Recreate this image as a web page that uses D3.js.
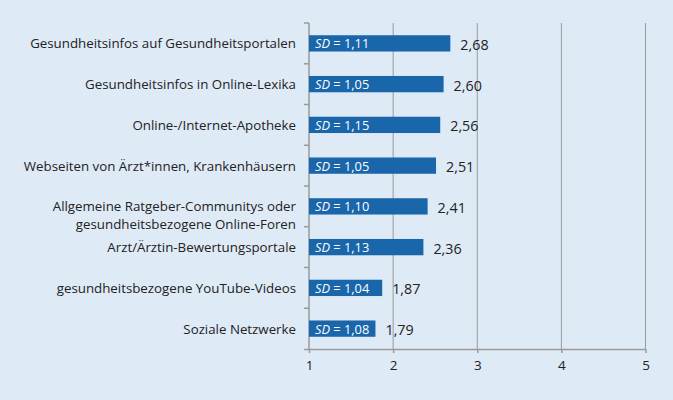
<!DOCTYPE html>
<html><head><meta charset="utf-8">
<script src="https://cdn.jsdelivr.net/npm/d3@7"></script>
<style>
html,body{margin:0;padding:0;background:#dfeaf7;}
svg{display:block;font-family:"Open Sans",sans-serif;}
</style></head>
<body>
<svg id="c" width="673" height="400"></svg>
<script>
const categories = [
  ["Gesundheitsinfos auf Gesundheitsportalen"],
  ["Gesundheitsinfos in Online-Lexika"],
  ["Online-/Internet-Apotheke"],
  ["Webseiten von Ärzt*innen, Krankenhäusern"],
  ["Allgemeine Ratgeber-Communitys oder", "gesundheitsbezogene Online-Foren"],
  ["Arzt/Ärztin-Bewertungsportale"],
  ["gesundheitsbezogene YouTube-Videos"],
  ["Soziale Netzwerke"]
];
const means = [2.68, 2.60, 2.56, 2.51, 2.41, 2.36, 1.87, 1.79];
const sds = [1.11, 1.05, 1.15, 1.05, 1.10, 1.13, 1.04, 1.08];
const xTicks = [1, 2, 3, 4, 5];

const fmt = v => v.toFixed(2).replace(".", ",");
const svg = d3.select("#c");
svg.append("rect").attr("width",673).attr("height",400).attr("fill","#dfeaf7");

const x = d3.scaleLinear().domain([1,5]).range([309,645.5]);
const y = d3.scaleBand().domain(d3.range(categories.length)).range([23,349]).paddingInner(0.6).paddingOuter(0.3);
const yb = d3.scaleBand().domain(d3.range(categories.length)).range([23,349]);
const axisCol = "#9a9a9a";

// gridlines
svg.append("g").selectAll("line").data(xTicks.slice(1)).join("line")
  .attr("x1",d=>x(d)).attr("x2",d=>x(d)).attr("y1",23).attr("y2",349)
  .attr("stroke",axisCol).attr("stroke-width",1);

// x axis
const xa = svg.append("g").attr("transform","translate(0,349)")
  .call(d3.axisBottom(x).tickValues(xTicks).tickSize(4).tickSizeOuter(0).tickFormat(d=>d));
xa.select(".domain").attr("stroke",axisCol).attr("stroke-width",1.5).attr("d","M304,0.5H"+x(5));
xa.selectAll(".tick line").attr("stroke",axisCol).attr("stroke-width",1.5);
xa.selectAll(".tick text").attr("font-family","Open Sans").attr("font-size",13.5).attr("fill","#222").attr("dy","1.05em");

// y axis
svg.append("line").attr("x1",x(1)).attr("x2",x(1)).attr("y1",23).attr("y2",349).attr("stroke",axisCol).attr("stroke-width",1.5);
svg.append("g").selectAll("line").data(d3.range(categories.length)).join("line")
  .attr("x1",304).attr("x2",x(1)).attr("y1",d=>yb(d)).attr("y2",d=>yb(d))
  .attr("stroke",axisCol).attr("stroke-width",1.5);

// category labels
const lab = svg.append("g").selectAll("text").data(categories).join("text")
  .attr("x",296).attr("y",(d,i)=>yb(i)+yb.bandwidth()/2)
  .attr("text-anchor","end").attr("font-size",13.3).attr("fill","#222").attr("dominant-baseline","central");
lab.selectAll("tspan").data(d=>d).join("tspan").attr("x",296).attr("dy",(d,j)=>j===0?0:"1.35em").text(d=>d);

// bars
svg.append("g").selectAll("rect").data(means).join("rect")
  .attr("x",x(1)).attr("y",(d,i)=>y(i)).attr("height",y.bandwidth())
  .attr("width",d=>x(d)-x(1)).attr("fill","#1a66ab");

// SD labels
const sdl = svg.append("g").selectAll("text").data(sds).join("text")
  .attr("x",x(1)+6).attr("y",(d,i)=>y(i)+y.bandwidth()/2).attr("dominant-baseline","central")
  .attr("font-size",12.8).attr("fill","#fff");
sdl.append("tspan").attr("font-style","italic").text("SD");
sdl.append("tspan").text(d=>" = "+fmt(d));

// value labels
svg.append("g").selectAll("text").data(means).join("text")
  .attr("x",d=>x(d)+10).attr("y",(d,i)=>y(i)+y.bandwidth()/2+1).attr("dominant-baseline","central")
  .attr("font-size",14.3).attr("fill","#222").text(d=>fmt(d));
</script>
</body></html>
